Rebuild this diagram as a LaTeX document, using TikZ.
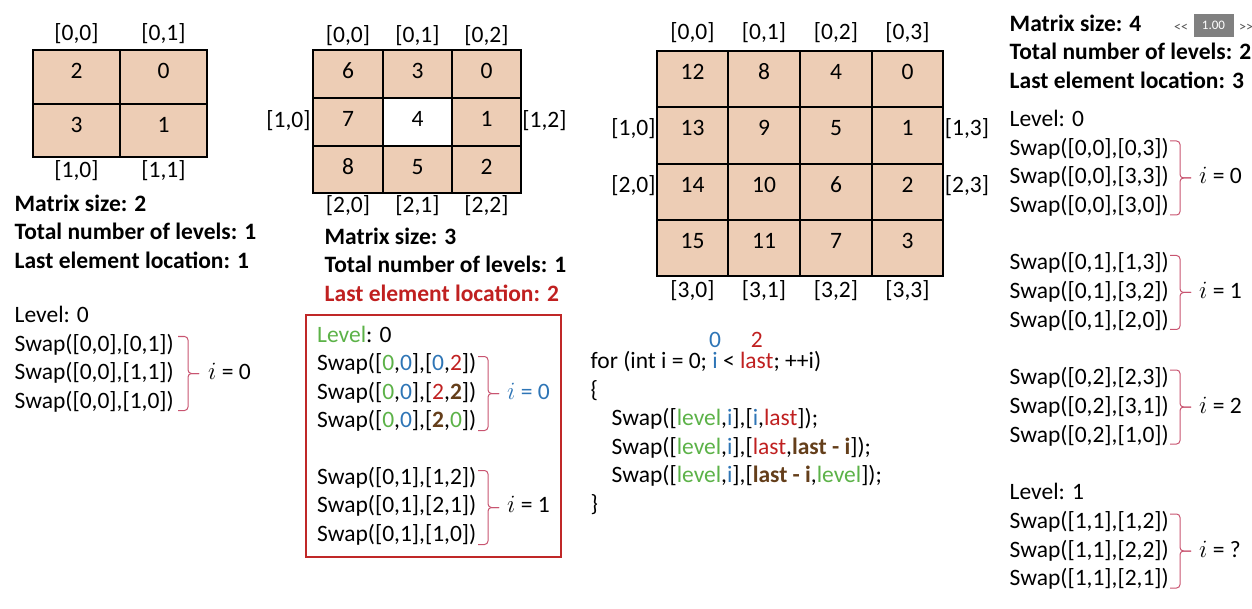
\documentclass[tikz,border=0pt]{standalone}
\usepackage{fontspec}
\setmainfont{Carlito}
\usetikzlibrary{calc}

\definecolor{cellfill}{RGB}{237,205,181}
\definecolor{lvgreen}{RGB}{92,178,72}
\definecolor{idxblue}{RGB}{46,117,182}
\definecolor{lastred}{RGB}{192,32,32}
\definecolor{diagbrown}{RGB}{100,62,26}
\definecolor{bracecol}{RGB}{200,84,112}
\definecolor{framered}{RGB}{192,40,40}
\definecolor{ctlgray}{RGB}{128,128,128}
\definecolor{ctltext}{RGB}{80,80,80}

% coloured fragments of the index expressions
\newcommand\cG[1]{\textcolor{lvgreen}{#1}}
\newcommand\cB[1]{\textcolor{idxblue}{#1}}
\newcommand\cR[1]{\textcolor{lastred}{#1}}
\newcommand\cBr[1]{\textbf{\textcolor{diagbrown}{#1}}}
% put a small value centred above a word
\newcommand\markabove[3]{\sbox0{#3}\rlap{\makebox[\wd0]{\raisebox{0.9em}[0pt][0pt]{\textcolor{#1}{#2}}}}\usebox0}

\tikzset{
  txt/.style={inner sep=0pt, anchor=base west, font=\fontsize{23.5}{28.5}\selectfont},
  hd/.style={txt, font=\fontsize{23.5}{28.5}\selectfont\bfseries},
  num/.style={inner sep=0pt, anchor=base, font=\fontsize{23.5}{28.5}\selectfont},
  gridline/.style={draw=black, line width=1.2pt},
  brc/.style={draw=bracecol, line width=1pt, rounded corners=3.5pt},
  ctl/.style={inner sep=0pt, text=ctltext, font=\fontsize{14}{16}\selectfont},
}

% right curly brace: left end x, top y, bottom y
\newcommand\swapbrace[3]{%
  \pgfmathsetmacro\ymid{(#2+#3)/2}%
  \draw[brc] (#1,#2) -- (#1+10,#2) -- (#1+10,\ymid) -- (#1+21,\ymid);
  \draw[brc] (#1+21,\ymid) -- (#1+10,\ymid) -- (#1+10,#3) -- (#1,#3);
}

\begin{document}
\begin{tikzpicture}[x=1pt,y=-1pt]
\useasboundingbox (0,0) rectangle (1252,609);

%% ---------- 2 x 2 matrix ----------
\fill[cellfill] (33,50) rectangle (207,157);
\draw[gridline] (33,50) rectangle (207,157);
\draw[gridline] (120,50) -- (120,157);
\draw[gridline] (33,104) -- (207,104);
\node[num] (a00) at (76.5,79) {2};
\node[num] (a01) at (163.5,79) {0};
\node[num] (a10) at (76.5,133) {3};
\node[num] (a11) at (163.5,133) {1};
\node[num] (al00) at (76.5,40.5) {[0,0]};
\node[num] (al01) at (163.5,40.5) {[0,1]};
\node[num] (al10) at (76.5,177.5) {[1,0]};
\node[num] (al11) at (163.5,177.5) {[1,1]};

\node[hd] (asize) at (14.5,211.5) {Matrix size: 2};
\node[hd] (alev) at (14.5,240) {Total number of levels: 1};
\node[hd] (alast) at (14.5,268.5) {Last element location: 1};

\node[txt] (al) at (14.5,322.5) {Level: 0};
\node[txt] (as1) at (14.5,351) {Swap([0,0],[0,1])};
\node[txt] (as2) at (14.5,379.5) {Swap([0,0],[1,1])};
\node[txt] (as3) at (14.5,408) {Swap([0,0],[1,0])};
\swapbrace{178}{336.5}{410.5}
\node[txt] (ai0) at (208,379.5) {\(i\) = 0};

%% ---------- 3 x 3 matrix ----------
\fill[cellfill] (313,50) rectangle (521,193);
\fill[white] (383,98) rectangle (452,146);
\draw[gridline] (313,50) rectangle (521,193);
\draw[gridline] (383,50) -- (383,193);
\draw[gridline] (452,50) -- (452,193);
\draw[gridline] (313,98) -- (521,98);
\draw[gridline] (313,146) -- (521,146);
\node[num] (b00) at (348,79) {6};
\node[num] (b01) at (417.5,79) {3};
\node[num] (b02) at (486.5,79) {0};
\node[num] (b10) at (348,127) {7};
\node[num] (b11) at (417.5,127) {4};
\node[num] (b12) at (486.5,127) {1};
\node[num] (b20) at (348,175) {8};
\node[num] (b21) at (417.5,175) {5};
\node[num] (b22) at (486.5,175) {2};
\node[num] (bl00) at (348,42.5) {[0,0]};
\node[num] (bl01) at (417.5,42.5) {[0,1]};
\node[num] (bl02) at (486.5,42.5) {[0,2]};
\node[num] (bl10) at (288.5,127.5) {[1,0]};
\node[num] (bl12) at (544.5,127.5) {[1,2]};
\node[num] (bl20) at (348,212.5) {[2,0]};
\node[num] (bl21) at (417.5,212.5) {[2,1]};
\node[num] (bl22) at (486.5,212.5) {[2,2]};

\node[hd] (bsize) at (324.5,244.5) {Matrix size: 3};
\node[hd] (blev) at (324.5,273) {Total number of levels: 1};
\node[hd, text=lastred] (blast) at (324.5,301.5) {Last element location: 2};

\draw[framered, line width=1.5pt] (306,315) rectangle (561,557);
\node[txt] (bl) at (317,342.5) {\cG{Level}: 0};
\node[txt] (bs1) at (317,370.9) {Swap([\cG{0},\cB{0}],[\cB{0},\cR{2}])};
\node[txt] (bs2) at (317,399.3) {Swap([\cG{0},\cB{0}],[\cR{2},\cBr{2}])};
\node[txt] (bs3) at (317,427.7) {Swap([\cG{0},\cB{0}],[\cBr{2},\cG{0}])};
\swapbrace{478}{356.5}{430.5}
\node[txt, text=idxblue] (bi0) at (507,399.3) {\(i\) = 0};
\node[txt] (bs4) at (317,484.5) {Swap([0,1],[1,2])};
\node[txt] (bs5) at (317,512.9) {Swap([0,1],[2,1])};
\node[txt] (bs6) at (317,541.3) {Swap([0,1],[1,0])};
\swapbrace{478}{470.5}{544.5}
\node[txt] (bi1) at (507,512.9) {\(i\) = 1};

%% ---------- 4 x 4 matrix ----------
\fill[cellfill] (657,51) rectangle (943,276);
\draw[gridline] (657,51) rectangle (943,276);
\foreach \gx in {728,800,872} \draw[gridline] (\gx,51) -- (\gx,276);
\foreach \gy in {107,164,220} \draw[gridline] (657,\gy) -- (943,\gy);
\node[num] (c00) at (692.5,80) {12};
\node[num] (c01) at (764,80) {8};
\node[num] (c02) at (836,80) {4};
\node[num] (c03) at (907.5,80) {0};
\node[num] (c10) at (692.5,136) {13};
\node[num] (c11) at (764,136) {9};
\node[num] (c12) at (836,136) {5};
\node[num] (c13) at (907.5,136) {1};
\node[num] (c20) at (692.5,193) {14};
\node[num] (c21) at (764,193) {10};
\node[num] (c22) at (836,193) {6};
\node[num] (c23) at (907.5,193) {2};
\node[num] (c30) at (692.5,249) {15};
\node[num] (c31) at (764,249) {11};
\node[num] (c32) at (836,249) {7};
\node[num] (c33) at (907.5,249) {3};
\node[num] (cl00) at (692.5,39.5) {[0,0]};
\node[num] (cl01) at (764,39.5) {[0,1]};
\node[num] (cl02) at (836,39.5) {[0,2]};
\node[num] (cl03) at (907.5,39.5) {[0,3]};
\node[num] (cl10) at (633.5,135.5) {[1,0]};
\node[num] (cl20) at (633.5,192.5) {[2,0]};
\node[num] (cl13) at (967,135.5) {[1,3]};
\node[num] (cl23) at (967,192.5) {[2,3]};
\node[num] (cl30) at (692.5,297.5) {[3,0]};
\node[num] (cl31) at (764,297.5) {[3,1]};
\node[num] (cl32) at (836,297.5) {[3,2]};
\node[num] (cl33) at (907.5,297.5) {[3,3]};

%% ---------- rotation loop ----------
\node[txt] (for) at (590.5,368.5) {for (int i = 0; \markabove{idxblue}{0}{\cB{i}} < \markabove{lastred}{2}{\cR{last}}; ++i)};
\node[txt] (open) at (590.5,397.1) {\{};
\node[txt] (sw1) at (611.5,425.7) {Swap([\cG{level},\cB{i}],[\cB{i},\cR{last}]);};
\node[txt] (sw2) at (611.5,454.3) {Swap([\cG{level},\cB{i}],[\cR{last},\cBr{last - i}]);};
\node[txt] (sw3) at (611.5,482.9) {Swap([\cG{level},\cB{i}],[\cBr{last - i},\cG{level}]);};
\node[txt] (close) at (590.5,511.5) {\}};

%% ---------- right column ----------
\node[hd] (dsize) at (1009.5,31.5) {Matrix size: 4};
\node[hd] (dlev) at (1009.5,60) {Total number of levels: 2};
\node[hd] (dlast) at (1009.5,88.5) {Last element location: 3};

\node[ctl] (prev) at (1181,28) {{<}{<}};
\node[fill=ctlgray, text=white, inner sep=0pt, minimum width=40pt, minimum height=23pt,
      font=\fontsize{13}{15}\selectfont] (zoomval) at (1213.5,25.5) {1.00};
\node[ctl, anchor=west] (next) at (1239,28) {{>}{>}};

\node[txt] (dl0) at (1009.5,126.5) {Level: 0};
\node[txt] (d1) at (1009.5,155.2) {Swap([0,0],[0,3])};
\node[txt] (d2) at (1009.5,183.9) {Swap([0,0],[3,3])};
\node[txt] (d3) at (1009.5,212.6) {Swap([0,0],[3,0])};
\swapbrace{1170}{141}{215}
\node[txt] (di0) at (1199,183.9) {\(i\) = 0};

\node[txt] (d4) at (1009.5,270) {Swap([0,1],[1,3])};
\node[txt] (d5) at (1009.5,298.7) {Swap([0,1],[3,2])};
\node[txt] (d6) at (1009.5,327.4) {Swap([0,1],[2,0])};
\swapbrace{1170}{255.5}{329.5}
\node[txt] (di1) at (1199,298.7) {\(i\) = 1};

\node[txt] (d7) at (1009.5,384.8) {Swap([0,2],[2,3])};
\node[txt] (d8) at (1009.5,413.5) {Swap([0,2],[3,1])};
\node[txt] (d9) at (1009.5,442.2) {Swap([0,2],[1,0])};
\swapbrace{1170}{370}{444}
\node[txt] (di2) at (1199,413.5) {\(i\) = 2};

\node[txt] (dl1) at (1009.5,499.6) {Level: 1};
\node[txt] (d10) at (1009.5,528.3) {Swap([1,1],[1,2])};
\node[txt] (d11) at (1009.5,557) {Swap([1,1],[2,2])};
\node[txt] (d12) at (1009.5,585.7) {Swap([1,1],[2,1])};
\swapbrace{1170}{514}{588}
\node[txt] (di3) at (1199,557) {\(i\) = ?};

\end{tikzpicture}
\end{document}
